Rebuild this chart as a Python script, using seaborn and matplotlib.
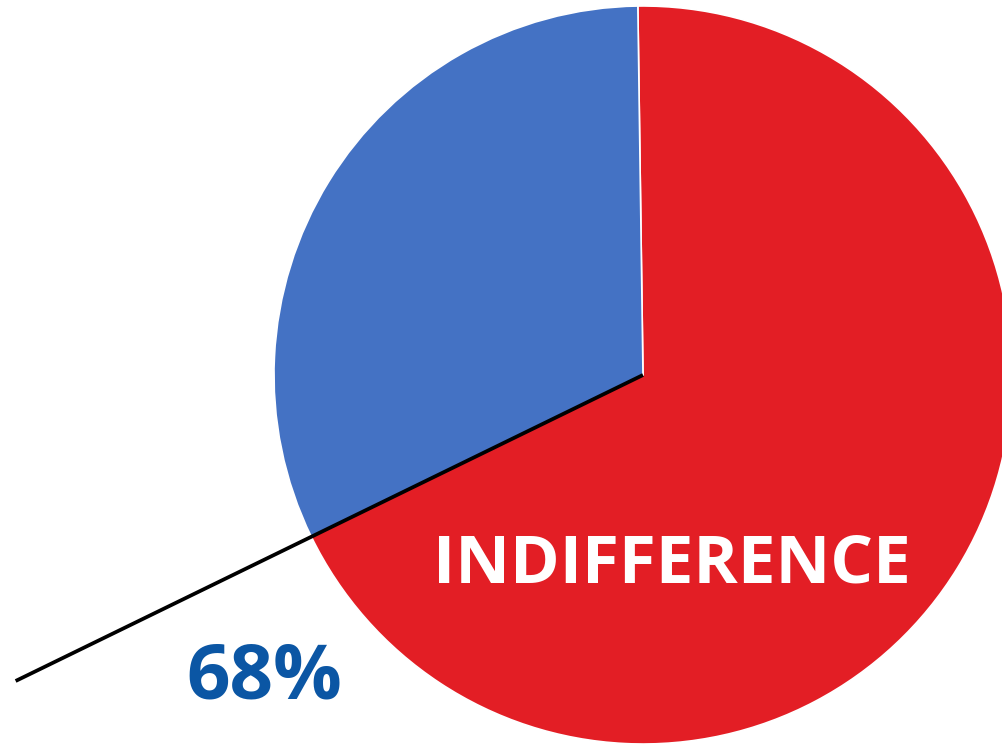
import numpy as np
import matplotlib
matplotlib.use("Agg")
import matplotlib.pyplot as plt
import seaborn as sns

categories = ["INDIFFERENCE", "OTHER"]
values = [68, 32]
colors = ["#E31E25", "#4472C4"]
label_text = "68%"

sns.set_theme(style="white")
plt.rcParams['font.family'] = ['Open Sans', 'DejaVu Sans']

fig = plt.figure(figsize=(10.03, 7.45), dpi=100)
ax = fig.add_axes([0, 0, 1, 1])

cx, cy, r = 643, 370, 369
start = 90.8
wedges, _ = ax.pie(values, colors=colors, startangle=start, counterclock=False,
                   center=(cx, cy), radius=r, frame=True,
                   wedgeprops=dict(edgecolor="white", linewidth=1.2))
ax.set_xlim(0, 1003)
ax.set_ylim(0, 745)
ax.set_aspect('equal')
ax.axis('off')

# leader line along the boundary between the slices
ang = np.deg2rad(start - values[0] / sum(values) * 360)
L = 698
ax.plot([cx, cx + L * np.cos(ang)], [cy, cy + L * np.sin(ang)], color="black",
        lw=2.7, solid_capstyle="butt", zorder=5)

ax.text(672, 180, categories[0], color="white", fontsize=48.5, fontweight="bold",
        ha="center", va="center")
ax.text(264, 66, label_text, color="#0B56A4", fontsize=55, fontweight="bold",
        ha="center", va="center")

fig.savefig("out.png", dpi=100)
